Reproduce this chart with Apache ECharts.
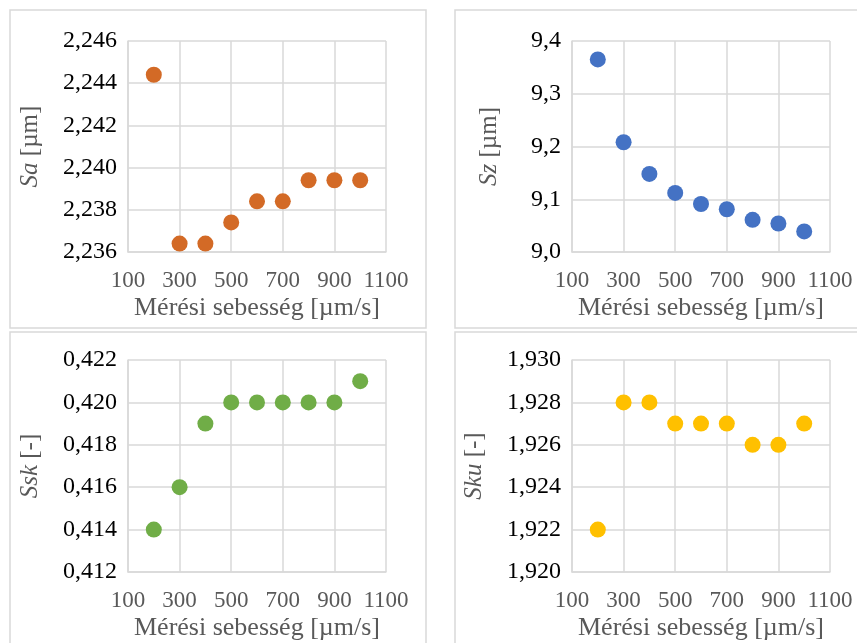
<!DOCTYPE html>
<html>
<head>
<meta charset="utf-8">
<script src="https://cdn.jsdelivr.net/npm/echarts@6/dist/echarts.min.js"></script>
<style>
html,body{margin:0;padding:0;background:#fff;}
#chart{width:857px;height:643px;}
</style>
</head>
<body>
<div id="chart"></div>
<script>
// sebesség értékek (µm/s)
let speeds = [200, 300, 400, 500, 600, 700, 800, 900, 1000];
let saVals = [2.2444, 2.2364, 2.2364, 2.2374, 2.2384, 2.2384, 2.2394, 2.2394, 2.2394];
let szVals = [9.365, 9.208, 9.148, 9.112, 9.091, 9.081, 9.061, 9.054, 9.039];
let sskVals = [0.414, 0.416, 0.419, 0.420, 0.420, 0.420, 0.420, 0.420, 0.421];
let skuVals = [1.922, 1.928, 1.928, 1.927, 1.927, 1.927, 1.926, 1.926, 1.927];

let xTitle = 'Mérési sebesség [µm/s]';
let yNames = ['Sa', 'Sz', 'Ssk', 'Sku'];
let yUnits = ['[µm]', '[µm]', '[-]', '[-]'];
let yRanges = [[2.236, 2.246, 0.002, 3], [9.0, 9.4, 0.1, 1], [0.412, 0.422, 0.002, 3], [1.920, 1.930, 0.002, 3]];
let colors = ['#D36A26', '#4472C4', '#70AD47', '#FFC000'];
let allVals = [saVals, szVals, sskVals, skuVals];

let gridPos = [
    {left: 128, top: 41, width: 258, height: 211},
    {left: 572, top: 41, width: 258, height: 211},
    {left: 128, top: 360, width: 258, height: 212},
    {left: 572, top: 360, width: 258, height: 212}
];
let yNameGaps = [85, 70, 85, 85];

let serif = '"Liberation Serif", "Times New Roman", serif';
let grids = [], xAxes = [], yAxes = [], series = [];

gridPos.forEach((g, i) => {
    grids.push(g);
    xAxes.push({
        type: 'value', gridIndex: i, min: 100, max: 1100, interval: 200,
        name: xTitle, nameLocation: 'middle', nameGap: 43,
        nameTextStyle: {fontFamily: serif, fontSize: 26, color: '#595959'},
        axisLine: {show: true, lineStyle: {color: '#d9d9d9', width: 1.5}},
        axisTick: {show: false},
        axisLabel: {fontFamily: serif, fontSize: 23, color: '#595959', margin: 17,
            formatter: (v) => String(v)},
        splitLine: {show: true, lineStyle: {color: '#d9d9d9', width: 1.5}}
    });
    let r = yRanges[i];
    yAxes.push({
        type: 'value', gridIndex: i, min: r[0], max: r[1], interval: r[2],
        name: '{it|' + yNames[i] + '} ' + yUnits[i],
        nameLocation: 'middle', nameGap: yNameGaps[i], nameRotate: 90,
        nameTextStyle: {
            fontFamily: serif, fontSize: 25, color: '#595959',
            rich: {it: {fontFamily: serif, fontSize: 25, fontStyle: 'italic', color: '#595959'}}
        },
        axisLine: {show: true, lineStyle: {color: '#d9d9d9', width: 1.5}},
        axisTick: {show: false},
        axisLabel: {
            fontFamily: serif, fontSize: 24, color: '#000', margin: 11,
            formatter: (v) => v.toFixed(r[3]).replace('.', ',')
        },
        splitLine: {show: true, lineStyle: {color: '#d9d9d9', width: 1.5}}
    });
    series.push({
        type: 'scatter', xAxisIndex: i, yAxisIndex: i,
        symbolSize: 16,
        itemStyle: {color: colors[i], opacity: 1},
        data: speeds.map((s, k) => [s, allVals[i][k]])
    });
});

// a panelek keretei
let frameStyle = {stroke: '#d9d9d9', lineWidth: 1.5, fill: 'none'};
let frames = [
    [10, 10, 416, 318],
    [455, 10, 420, 318],
    [10, 332, 416, 330],
    [455, 332, 420, 330]
].map(f => ({
    type: 'rect', shape: {x: f[0], y: f[1], width: f[2], height: f[3]},
    style: frameStyle, silent: true
}));

let myChart = echarts.init(document.getElementById('chart'));
myChart.setOption({
    animation: false,
    graphic: frames,
    grid: grids,
    xAxis: xAxes,
    yAxis: yAxes,
    series: series
});
</script>
</body>
</html>
